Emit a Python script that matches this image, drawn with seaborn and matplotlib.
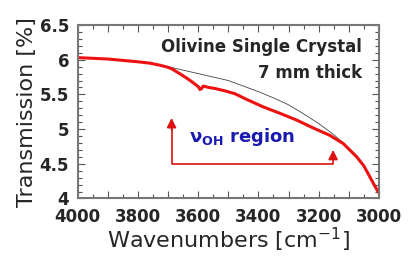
# Import packages
import matplotlib
matplotlib.use('Agg')
import matplotlib.pyplot as plt
from matplotlib.ticker import MultipleLocator, FuncFormatter
import seaborn as sns

# Spectrum (wavenumber, transmission %)
wavenumber = [4000, 3950, 3900, 3850, 3800, 3760, 3726, 3700, 3688, 3665, 3643,
              3620, 3599, 3594, 3589, 3583, 3565, 3544, 3510, 3478, 3440,
              3384, 3330, 3273, 3220, 3163, 3118, 3074, 3050, 3030, 3015, 3002]
transmission = [6.03, 6.02, 6.01, 5.99, 5.97, 5.95, 5.92, 5.89, 5.87, 5.81, 5.75,
                5.68, 5.61, 5.57, 5.58, 5.62, 5.60, 5.585, 5.55, 5.51, 5.43,
                5.32, 5.23, 5.13, 5.02, 4.91, 4.79, 4.60, 4.47, 4.31, 4.19, 4.09]

# Baseline (thin grey curve)
base_wavenumber = [4000, 3900, 3800, 3750, 3700, 3650, 3600, 3550, 3500, 3450,
                   3400, 3350, 3300, 3250, 3200, 3150, 3100, 3074, 3050, 3030, 3002]
base_transmission = [6.03, 6.01, 5.97, 5.94, 5.90, 5.85, 5.80, 5.75, 5.70, 5.62,
                     5.54, 5.45, 5.35, 5.22, 5.08, 4.92, 4.73, 4.62, 4.48, 4.32, 4.09]

sns.set_style('ticks')
plt.rcParams['font.family'] = ['DejaVu Sans']
plt.rcParams['mathtext.fontset'] = 'dejavusans'

fig = plt.figure(figsize=(4.11, 2.62), dpi=100)
ax = fig.add_axes([0.1886, 0.2424, 0.7334, 0.6622])

sns.lineplot(x=base_wavenumber, y=base_transmission, color='#444444', linewidth=0.6, ax=ax)
sns.lineplot(x=wavenumber, y=transmission, color='#ee1111', linewidth=2.2, ax=ax)

ax.set_xlim(4000, 3000)
ax.set_ylim(4, 6.5)

# Ticks
ax.xaxis.set_major_locator(MultipleLocator(100))
ax.xaxis.set_minor_locator(MultipleLocator(50))
ax.xaxis.set_major_formatter(FuncFormatter(lambda v, p: '%d' % v if int(v) % 200 == 0 else ''))
ax.yaxis.set_major_locator(MultipleLocator(0.5))
ax.yaxis.set_minor_locator(MultipleLocator(0.1))
ax.yaxis.set_major_formatter(FuncFormatter(lambda v, p: ('%g' % v)))
ax.tick_params(which='both', direction='in', top=True, right=True, color='#555555')
ax.tick_params(which='major', length=5, width=0.8, labelsize=12)
ax.tick_params(axis='x', which='major', pad=7)
ax.tick_params(axis='y', which='major', pad=6)
ax.tick_params(which='minor', length=3, width=0.8)
for lab in ax.get_xticklabels() + ax.get_yticklabels():
    lab.set_fontweight('bold')
for s in ax.spines.values():
    s.set_color('#777777')
    s.set_linewidth(1.5)

ax.set_xlabel('Wavenumbers [cm$^{-1}$]', fontsize=16, labelpad=0)
ax.set_ylabel('Transmission [%]', fontsize=16, labelpad=2)

# Text labels
ax.text(3056, 6.18, 'Olivine Single Crystal', ha='right', va='center',
        fontsize=12, fontweight='bold')
ax.text(3056, 5.81, '7 mm thick', ha='right', va='center',
        fontsize=12, fontweight='bold')
ax.text(3630, 4.88, r'$\mathbf{\nu}_{\mathbf{OH}}$ region', ha='left', va='center',
        fontsize=13, fontweight='bold', color='#1a1ab0')

# Bracket with arrows
ax.plot([3688, 3688, 3152, 3152], [5.0, 4.49, 4.49, 4.6], color='#dd1111', linewidth=1.2)
ax.annotate('', xy=(3688, 5.2), xytext=(3688, 4.95),
            arrowprops=dict(arrowstyle='-|>', color='#dd1111', lw=1.2, mutation_scale=14))
ax.annotate('', xy=(3152, 4.74), xytext=(3152, 4.55),
            arrowprops=dict(arrowstyle='-|>', color='#dd1111', lw=1.2, mutation_scale=14))

fig.savefig('out.png', dpi=100)
